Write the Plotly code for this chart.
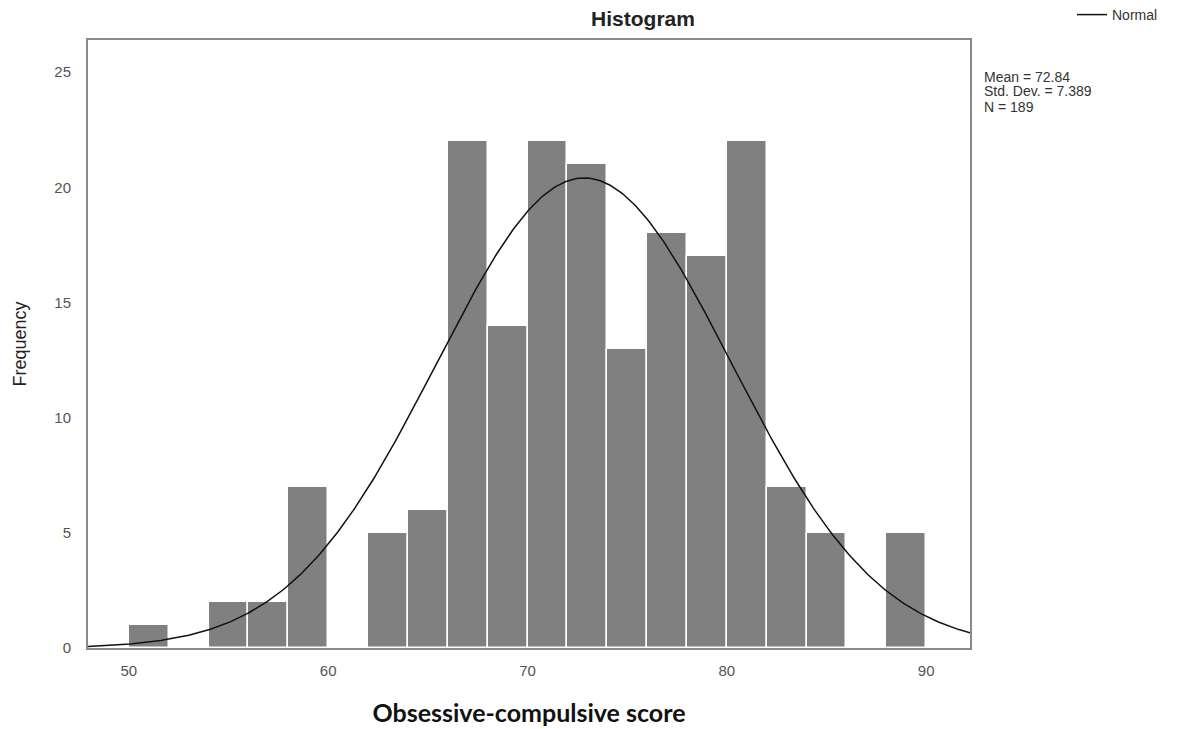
import numpy as np
import plotly.graph_objects as go

bin_starts = [50, 54, 56, 58, 62, 64, 66, 68, 70, 72, 74, 76, 78, 80, 82, 84, 88]
frequencies = [1, 2, 2, 7, 5, 6, 22, 14, 22, 21, 13, 18, 17, 22, 7, 5, 5]
bin_width = 2
mean = 72.84
std_dev = 7.389
n_obs = 189
x_ticks = [50, 60, 70, 80, 90]
y_ticks = [0, 5, 10, 15, 20, 25]
x_range = [47.95, 92.2]
y_range = [0, 26.4]
stats_lines = ["Mean = 72.84", "Std. Dev. = 7.389", "N = 189"]

centers = [s + bin_width / 2 for s in bin_starts]

xs = np.linspace(x_range[0], x_range[1], 400)
ys = n_obs * bin_width / (std_dev * np.sqrt(2 * np.pi)) * np.exp(-0.5 * ((xs - mean) / std_dev) ** 2)

fig = go.Figure()
fig.add_trace(go.Bar(
    x=centers, y=frequencies, width=[bin_width] * len(centers),
    marker=dict(color="#808080", line=dict(color="white", width=1.5)),
    showlegend=False, hoverinfo="x+y",
))
fig.add_trace(go.Scatter(
    x=xs, y=ys, mode="lines", name="Normal",
    line=dict(color="#111111", width=1.5),
))

axis_common = dict(
    showline=True, linecolor="#8a8a8a", linewidth=2, mirror=True,
    showgrid=False, zeroline=False, ticks="", automargin=True,
    tickfont=dict(family="Arial, Liberation Sans", size=15, color="#555555"),
)

annotations = []
for i, line in enumerate(stats_lines):
    annotations.append(dict(
        text=line, xref="paper", yref="paper",
        x=(982 - 88) / 882, y=1 - (36.5 + 15 * i) / 608,
        xanchor="left", yanchor="middle", align="left", showarrow=False,
        font=dict(family="Arial, Liberation Sans", size=14, color="#333333"),
    ))

fig.update_layout(
    width=1186, height=729,
    margin=dict(l=88, r=216, t=40, b=81, autoexpand=False),
    plot_bgcolor="white", paper_bgcolor="white",
    bargap=0,
    title=dict(text="<b>Histogram</b>", x=643 / 1186, xanchor="center",
               y=1 - 19 / 729, yanchor="middle",
               font=dict(family="Arial, Liberation Sans", size=21, color="#222222")),
    xaxis=dict(range=x_range, tickvals=x_ticks, ticklabelstandoff=8, **axis_common,
               title=dict(text="<b>Obsessive-compulsive score</b>",
                          font=dict(family="Lato, Open Sans", size=25, color="#111111"),
                          standoff=26)),
    yaxis=dict(range=y_range, tickvals=y_ticks, ticklabelstandoff=12, **axis_common,
               title=dict(text="Frequency",
                          font=dict(family="Arial, Liberation Sans", size=18, color="#222222"),
                          standoff=23)),
    legend=dict(xref="container", yref="container",
                x=1072 / 1186, y=1 - 15 / 729, xanchor="left", yanchor="middle",
                font=dict(family="Arial, Liberation Sans", size=14, color="#333333"),
                bgcolor="rgba(0,0,0,0)", itemwidth=30),
    annotations=annotations,
)

fig.write_html("out.html")
